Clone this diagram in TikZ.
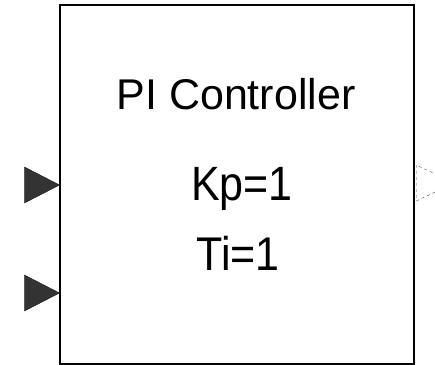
\documentclass[tikz,border=0pt]{standalone}
\usepackage{fontspec}
\setmainfont{Liberation Sans}
\usetikzlibrary{shapes.geometric}

\begin{document}
\begin{tikzpicture}[x=1pt,y=-1pt,line join=miter,
                    block/.style={draw,line width=1.5pt,minimum width=354pt,
                                  minimum height=359pt,inner sep=0pt},
                    inport/.style={isosceles triangle,isosceles triangle stretches,
                                   fill=black!80,draw=black!90,inner sep=0pt,
                                   minimum width=36pt,minimum height=35pt,anchor=apex},
                    outport/.style={isosceles triangle,isosceles triangle stretches,
                                    draw=black!70,dashed,inner sep=0pt,
                                    minimum width=36pt,minimum height=38pt,anchor=lower side},
                    label/.style={font=\fontsize{43}{50}\selectfont,inner sep=0pt,anchor=base}]
  \useasboundingbox (0,0) rectangle (435,364);

  \node[block] (pi) at (237,184.5) {};

  \node[label] (name) at (236,109) {PI Controller};
  \node[label] (kp)   at (242,200) {\scalebox{1}[1.12]{Kp=1}};
  \node[label] (ti)   at (238,270) {\scalebox{1}[1.1]{Ti=1}};

  \node[inport]  (in1)  at (60,185) {};
  \node[inport]  (in2)  at (60,293) {};
  \node[outport] (out1) at (416,183) {};
\end{tikzpicture}
\end{document}
